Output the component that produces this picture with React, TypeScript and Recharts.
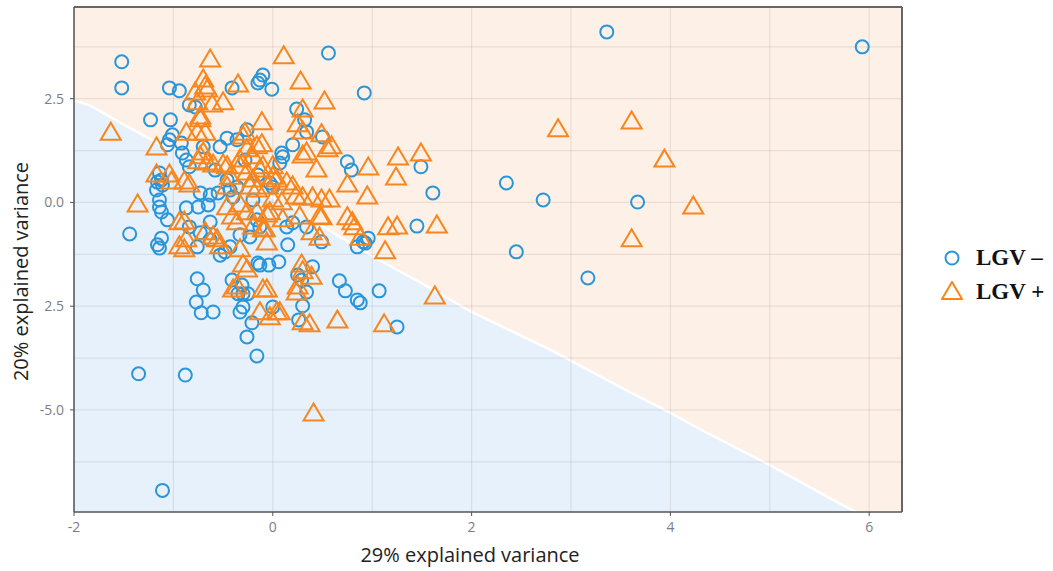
import React from 'react';
import { ComposedChart, Area, Scatter, XAxis, YAxis, CartesianGrid, Legend, Label, ReferenceLine } from 'recharts';

const BLUE = '#2a95d8';
const ORANGE = '#f7861f';
const PEACH_BG = '#fdf0e6';
const BLUE_BG = '#e6f1fb';

const xDomain = [-2, 6.33];
const yDomain = [-7.46, 4.71];
const xTicks = [-2, 0, 2, 4, 6];
const yTicks = [-5, -2.5, 0, 2.5];
const xGridValues = [-2, -1, 0, 1, 2, 3, 4, 5, 6];
const yGridValues = [-6.25, -5, -3.75, -2.5, -1.25, 0, 1.25, 2.5, 3.75];

// decision boundary between the two classes
const boundaryX = [-2.0, -1.84, -1.54, -1.21, -0.6, 0.2, 0.64, 1.08, 1.5, 2.0, 2.8, 3.55, 4.0, 4.27, 5.0, 5.7, 5.87, 6.33];
const boundaryY = [2.46, 2.34, 1.93, 1.5, 0.8, -0.11, -0.78, -1.4, -1.95, -2.64, -3.56, -4.52, -5.07, -5.43, -6.33, -7.25, -7.46, -7.46];

// LGV - (circles)
const lgvMinus: [number, number][] = [
  [-1.52, 3.39], [-1.52, 2.76], [0.56, 3.6], [3.36, 4.11], [5.93, 3.75], [0.92, 2.64],
  [-1.23, 1.99], [-1.03, 1.99], [2.35, 0.47], [2.72, 0.06], [3.67, 0.01], [2.45, -1.19],
  [3.17, -1.82], [1.61, 0.23], [1.49, 0.86], [1.45, -0.57], [1.07, -2.13], [1.25, -3.0],
  [-1.35, -4.13], [-0.88, -4.16], [-1.11, -6.94], [-0.16, -3.7], [-0.26, -3.24], [-1.44, -0.76],
  [0.91, -0.95], [0.96, -0.86], [0.85, -2.35], [0.73, -2.13], [0.67, -1.89], [0.4, -1.55],
  [0.34, -2.16], [0.3, -2.49], [0.26, -2.83], [0.06, -1.43], [-0.04, -1.51], [-0.15, -1.46],
  [-0.72, -2.66], [-0.6, -2.64], [-0.76, -1.84], [-0.7, -2.11], [-0.77, -2.4], [-0.35, -2.2],
  [-0.3, -2.2], [-0.25, -2.2], [-0.3, -2.52], [-0.31, -1.99], [-1.04, 2.76], [-0.94, 2.69],
  [-0.1, 3.07], [-0.13, 2.95], [-0.15, 2.88], [-0.41, 2.76], [-0.84, 2.35], [-0.78, 2.3],
  [-1.01, 1.63], [-1.04, 1.51], [-1.06, 1.39], [-0.91, 1.19], [-0.53, 1.34], [-0.46, 1.55],
  [-0.36, 1.51], [-0.26, 1.75], [-1.14, 0.71], [-1.12, 0.54], [-0.84, 0.86], [-0.87, 1.02],
  [-0.01, 2.73], [0.24, 2.25], [0.32, 1.99], [0.34, 1.7], [0.5, 1.58], [0.2, 1.39],
  [0.09, 1.19], [0.07, 0.95], [0.75, 0.98], [0.79, 0.78], [-0.03, 0.47], [-1.16, -1.02],
  [-1.14, -1.1], [-1.12, -0.86], [-1.14, 0.06], [-1.14, -0.11], [-1.12, -0.23], [-1.06, -0.42],
  [-1.17, 0.3], [-1.11, 0.42], [-0.87, -0.13], [-0.75, -0.11], [-0.65, -0.06], [-0.73, 0.23],
  [-0.84, -0.59], [-0.63, -0.47], [-0.73, -0.73], [-0.76, -1.07], [-0.53, -1.27], [-0.48, -1.19],
  [-0.41, -1.87], [-0.13, -1.51], [-0.23, -0.83], [-0.13, -0.59], [-0.16, -0.42], [-0.63, 0.18],
  [-0.55, 0.23], [-0.43, 0.3], [-0.36, 0.37], [0.2, -0.49], [0.34, -0.59], [0.15, -1.02],
  [0.49, -0.95], [0.85, -1.07], [0.93, -0.98], [0.25, -1.75], [0.29, -1.87], [0.88, -2.42],
  [0.0, -2.52], [-0.21, -2.9], [-0.33, -2.64], [-0.58, 0.78], [-0.28, 1.02], [-0.15, 0.66],
  [-0.46, 0.54], [-0.4, 0.13], [-0.2, 0.06], [0.0, 0.37], [0.1, 1.1], [-0.7, 1.34],
  [-0.63, -0.9], [-0.33, -0.78], [0.14, -0.59], [-0.43, -1.07], [-1.16, 0.49], [-0.92, 1.43],
];

// LGV + (triangles)
const lgvPlus: [number, number][] = [
  [-1.63, 1.67], [-1.36, -0.06], [-1.17, 0.66], [-0.63, 3.43], [0.11, 3.51], [0.28, 2.9],
  [0.52, 2.42], [2.87, 1.75], [3.61, 1.94], [3.94, 1.02], [4.23, -0.11], [3.61, -0.9],
  [1.65, -0.57], [1.63, -2.28], [1.12, -2.95], [0.65, -2.86], [0.41, -5.1], [1.49, 1.17],
  [1.26, 1.07], [1.24, 0.59], [1.13, -1.19], [0.95, 0.13], [0.96, 0.83], [-0.7, 2.95],
  [-0.68, 2.78], [-0.35, 2.83], [-0.5, 2.4], [-0.61, 2.35], [-0.76, 2.4], [-0.73, 1.99],
  [-0.11, 1.92], [-0.87, 1.67], [-0.76, 1.67], [-0.68, 1.67], [-1.17, 1.31], [-0.7, 1.19],
  [-0.75, 0.98], [-0.6, 0.9], [-0.5, 0.9], [-0.3, 1.58], [-0.26, 1.27], [-0.16, 1.34],
  [-1.04, 0.66], [-0.89, 0.49], [-0.43, 0.61], [-0.33, 0.86], [-0.13, 0.78], [-0.2, 0.54],
  [0.3, 2.23], [0.25, 1.87], [0.3, 1.7], [0.49, 1.63], [0.59, 1.34], [0.55, 1.27],
  [0.34, 1.19], [0.3, 1.12], [0.44, 0.78], [0.75, 0.42], [0.0, 0.86], [-0.11, 1.39],
  [0.04, 0.54], [0.14, 0.47], [-0.89, -0.47], [-0.94, -0.49], [-0.94, -1.07], [-0.89, -1.14],
  [-0.68, -0.73], [-0.56, -0.9], [-0.53, -1.07], [-0.46, -0.13], [-0.41, -0.35], [-0.36, -0.49],
  [-0.33, -0.06], [-0.26, -0.25], [-0.16, -0.25], [-0.1, -0.66], [-0.06, -0.98], [-0.33, -1.14],
  [-0.3, -1.51], [-0.26, -1.63], [-0.36, -2.04], [-0.4, -2.11], [-0.1, -2.11], [-0.13, -2.66],
  [-0.23, 0.37], [-0.16, 0.3], [-0.46, 0.37], [-0.84, 0.42], [-1.02, 0.49], [0.3, 0.11],
  [0.4, 0.11], [0.49, 0.06], [0.57, 0.06], [0.23, 0.13], [0.49, -0.37], [0.75, -0.37],
  [0.8, -0.49], [0.82, -0.61], [1.16, -0.61], [1.25, -0.59], [0.47, -0.86], [0.39, -0.73],
  [0.88, -0.86], [0.29, -1.51], [0.3, -1.67], [0.39, -1.8], [0.25, -2.04], [0.24, -2.18],
  [-0.06, -2.11], [0.3, -2.9], [0.07, -2.66], [-0.03, -2.78], [-0.05, 0.37], [0.09, -0.01],
  [0.1, -0.42], [-0.06, -0.3], [-0.08, -0.66], [0.37, -2.95], [0.04, -2.66], [-0.66, 2.71],
  [-0.78, 2.64], [-0.73, 2.06], [-0.28, 1.67], [-0.73, 1.1], [-0.66, 0.95], [-0.46, 0.86],
  [-0.33, 1.02], [-0.2, 1.1], [-0.1, 0.86], [-0.26, 0.71], [0.0, 0.61], [-0.87, -0.9],
  [-0.6, -0.83], [-0.2, -0.59], [-0.03, -0.25], [0.0, 0.06], [0.2, 0.37], [0.27, -0.35],
  [0.47, -0.35],
];

const boundaryData = boundaryX.map((x, i) => ({ x, y: boundaryY[i] }));
const minusData = lgvMinus.map(([x, y]) => ({ x, y }));
const plusData = lgvPlus.map(([x, y]) => ({ x, y }));

const Ring = (p: any) => (
  <circle cx={p.cx} cy={p.cy} r={6.5} fill="none" stroke={BLUE} strokeWidth={2} />
);

const Tri = (p: any) => (
  <polygon
    points={`${p.cx},${p.cy - 10.5} ${p.cx - 10},${p.cy + 6.5} ${p.cx + 10},${p.cy + 6.5}`}
    fill="none"
    stroke={ORANGE}
    strokeWidth={2}
  />
);

const formatY = (v: number) => (v === -2.5 ? '2.5' : v.toFixed(1));

const tickStyle = { fill: '#7d7d85', fontSize: 14, fontFamily: 'Open Sans, sans-serif' };
const titleFont = 'Open Sans, sans-serif';

function LegendBox() {
  const rows = [
    { label: 'LGV \u2013', icon: <circle cx={11} cy={11} r={6.5} fill="none" stroke={BLUE} strokeWidth={2} /> },
    { label: 'LGV +', icon: <polygon points="11,1 1,18 21,18" fill="none" stroke={ORANGE} strokeWidth={2} /> },
  ];
  return (
    <div>
      {rows.map((r) => (
        <div key={r.label} style={{ display: 'flex', alignItems: 'center', height: 34 }}>
          <svg width={22} height={22} style={{ marginRight: 13 }}>{r.icon}</svg>
          <span style={{ fontFamily: '"Liberation Serif", serif', fontWeight: 'bold', fontSize: 23, color: '#111' }}>
            {r.label}
          </span>
        </div>
      ))}
    </div>
  );
}

export default function App() {
  return (
    <div style={{ position: 'absolute', left: 0, top: 0, width: 1053, height: 571, background: '#fff' }}>
      <ComposedChart width={1053} height={571} margin={{ top: 7, right: 151, bottom: 29, left: 30 }}>
        <XAxis
          type="number"
          dataKey="x"
          domain={xDomain}
          ticks={xTicks}
          allowDataOverflow
          height={30}
          tickSize={4}
          tickMargin={6}
          tick={tickStyle}
          stroke="#555"
          axisLine={{ stroke: '#555', strokeWidth: 1.5 }}
        >
          <Label
            content={({ viewBox }: any) => (
              <text
                x={viewBox.x + viewBox.width / 2 - 18}
                y={viewBox.y + 50}
                textAnchor="middle"
                fontSize={20}
                fontFamily={titleFont}
                fill="#222"
              >
                29% explained variance
              </text>
            )}
          />
        </XAxis>
        <YAxis
          type="number"
          dataKey="y"
          domain={yDomain}
          ticks={yTicks}
          tickFormatter={formatY}
          allowDataOverflow
          width={44}
          tickSize={4}
          tickMargin={6}
          tick={tickStyle}
          stroke="#555"
          axisLine={{ stroke: '#555', strokeWidth: 1.5 }}
        >
          <Label
            content={({ viewBox }: any) => {
              const cx = viewBox.x - 10;
              const cy = viewBox.y + viewBox.height / 2 + 12;
              return (
                <text
                  x={cx}
                  y={cy}
                  transform={`rotate(-90, ${cx}, ${cy})`}
                  textAnchor="middle"
                  dominantBaseline="central"
                  fontSize={20}
                  fontFamily={titleFont}
                  fill="#222"
                >
                  20% explained variance
                </text>
              );
            }}
          />
        </YAxis>

        {/* class regions */}
        <Area
          data={boundaryData}
          type="linear"
          dataKey={(d: any) => [d.y, yDomain[1]]}
          fill={PEACH_BG}
          fillOpacity={1}
          stroke="none"
          dot={false}
          activeDot={false}
          isAnimationActive={false}
        />
        <Area
          data={boundaryData}
          type="linear"
          dataKey="y"
          baseValue={yDomain[0]}
          fill={BLUE_BG}
          fillOpacity={1}
          stroke="#ffffff"
          strokeWidth={2.5}
          dot={false}
          activeDot={false}
          isAnimationActive={false}
        />

        <CartesianGrid
          zIndex={150}
          horizontalValues={yGridValues}
          verticalValues={xGridValues}
          stroke="rgba(110, 90, 80, 0.12)"
          strokeWidth={1.2}
          fill="none"
        />

        {/* panel border on top and right */}
        <ReferenceLine y={yDomain[1]} stroke="#666" strokeWidth={2} />
        <ReferenceLine x={xDomain[1]} stroke="#666" strokeWidth={2} />

        <Scatter name="LGV –" data={minusData} shape={Ring} isAnimationActive={false} />
        <Scatter name="LGV +" data={plusData} shape={Tri} isAnimationActive={false} />

        <Legend
          layout="horizontal"
          verticalAlign="middle"
          align="center"
          content={() => <LegendBox />}
          wrapperStyle={{ left: 941, top: 241, width: 112 }}
        />
      </ComposedChart>
    </div>
  );
}
